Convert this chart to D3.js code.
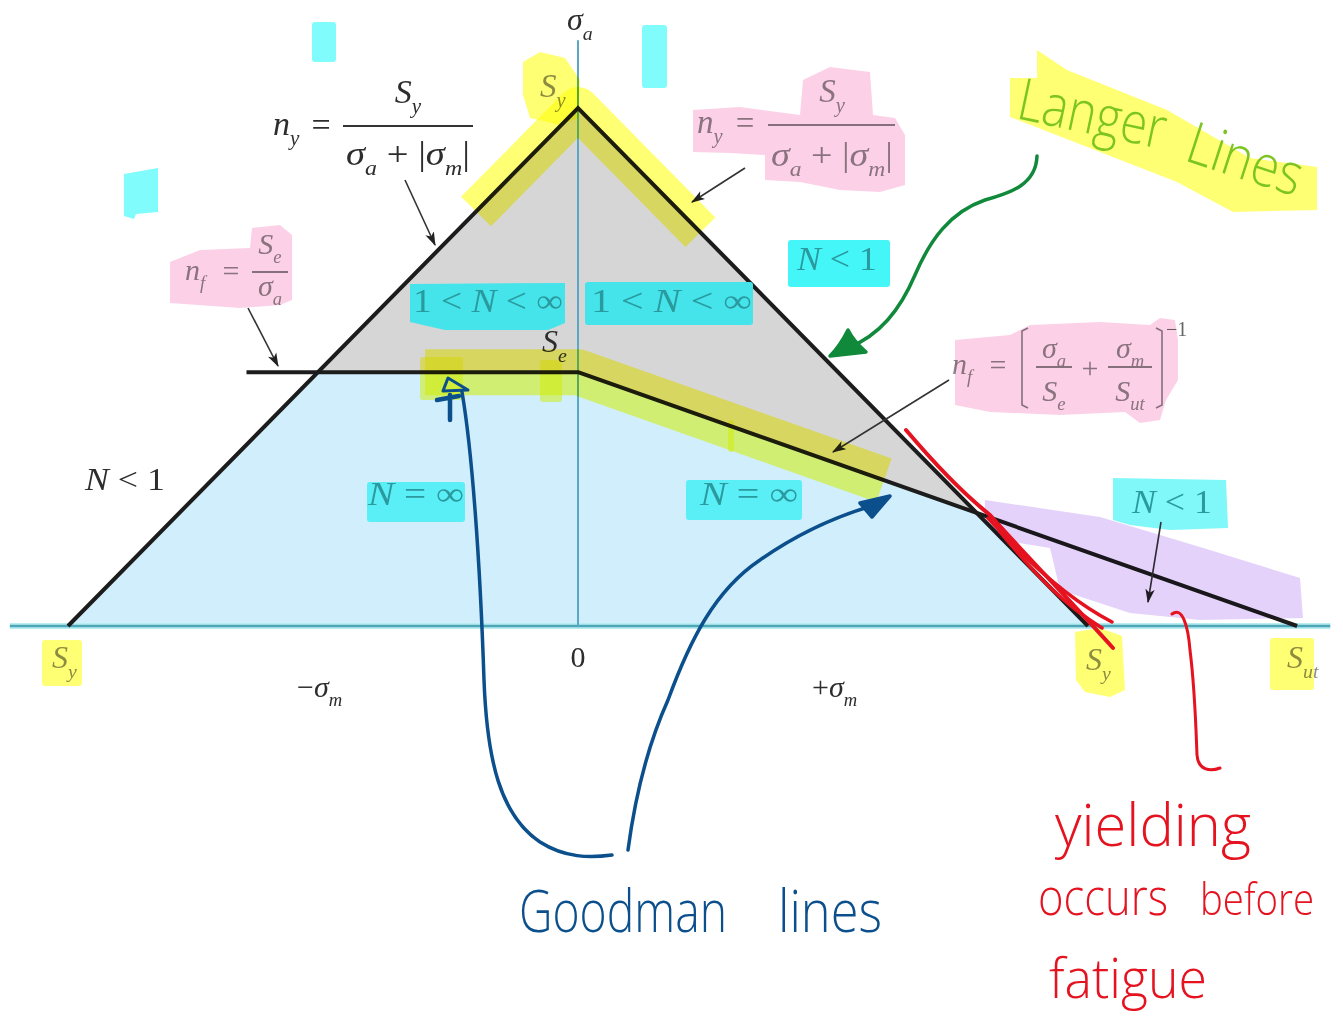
<!DOCTYPE html>
<html>
<head>
<meta charset="utf-8">
<script src="https://cdn.jsdelivr.net/npm/d3@7"></script>
<style>
  html, body { margin: 0; background: #fff; }
  svg { display: block; }
  .hl { mix-blend-mode: multiply; }
</style>
</head>
<body>
<svg id="chart" width="1343" height="1024"></svg>
<script>
// Material strengths, normalised by the yield strength
const strengthNames = ["Sy", "Se", "Sut"];
const strengthValues = [1.0, 0.49, 1.41];

// Langer (first-cycle yield) lines: mean stress vs alternating stress
const langerMean = [-1, 0, 1];
const langerAmp = [0, 1, 0];

// Fatigue boundary: flat for compressive mean stress, Goodman line for tensile
const fatigueMean = [-0.65, 0, 1.41];
const fatigueAmp = [0.49, 0.49, 0];

// Extent of the drawn axes
const axisMeanExtent = [-1.114, 1.475];
const axisAmpExtent = [0, 1.131];

const [Sy, Se, Sut] = strengthValues;

const svg = d3.select("#chart");
const x = d3.scaleLinear().domain([-1, 1]).range([68, 1088]);
const y = d3.scaleLinear().domain([0, 1]).range([626, 108]);

const ink = "#2d2d2d";
const soft = "#8c8c8c";   // text sitting under a highlighter stroke
const teal = "#2a9a9e";   // text on a cyan marker
const serif = "'Liberation Serif','Times New Roman',serif";
const hand = "'Open Sans','Noto Sans',sans-serif";
const line = d3.line().x(d => x(d[0])).y(d => y(d[1]));

// intersection of two segments given as [[m1,a1],[m2,a2]]
function intersect(p, q) {
  const [[x1, y1], [x2, y2]] = p, [[x3, y3], [x4, y4]] = q;
  const d = (x1 - x2) * (y3 - y4) - (y1 - y2) * (x3 - x4);
  const t = ((x1 - x3) * (y3 - y4) - (y1 - y3) * (x3 - x4)) / d;
  return [x1 + t * (x2 - x1), y1 + t * (y2 - y1)];
}
const langerPts = langerMean.map((m, i) => [m, langerAmp[i]]);
const fatiguePts = fatigueMean.map((m, i) => [m, fatigueAmp[i]]);
const goodmanYield = intersect([fatiguePts[1], fatiguePts[2]], [langerPts[1], langerPts[2]]);
const flatYield = [-(Sy - Se), Se];

// ---- regions ----
svg.append("path")
  .attr("d", line([langerPts[0], flatYield, fatiguePts[1], goodmanYield, langerPts[2]]) + "Z")
  .attr("fill", "#d0eefb");
svg.append("path")
  .attr("d", line([flatYield, langerPts[1], goodmanYield, fatiguePts[1]]) + "Z")
  .attr("fill", "#d6d6d6");

// ---- axes ----
svg.append("line")
  .attr("x1", x(axisMeanExtent[0])).attr("x2", x(axisMeanExtent[1]))
  .attr("y1", y(0)).attr("y2", y(0))
  .attr("stroke", "#b8eef2").attr("stroke-width", 6);
svg.append("line")
  .attr("x1", x(axisMeanExtent[0])).attr("x2", x(axisMeanExtent[1]))
  .attr("y1", y(0)).attr("y2", y(0))
  .attr("stroke", "#4fa6b8").attr("stroke-width", 2.5);
svg.append("line")
  .attr("x1", x(0)).attr("x2", x(0))
  .attr("y1", y(axisAmpExtent[0])).attr("y2", y(axisAmpExtent[1]))
  .attr("stroke", "#5aa8c6").attr("stroke-width", 2);

// ---- boundary lines ----
svg.append("path").attr("d", line(langerPts))
  .attr("fill", "none").attr("stroke", "#1c1c1c").attr("stroke-width", 4).attr("stroke-linejoin", "miter");
svg.append("path").attr("d", line(fatiguePts))
  .attr("fill", "none").attr("stroke", "#1c1c1c").attr("stroke-width", 4).attr("stroke-linejoin", "round");

// ---- cyan markers sit under their labels ----
const cyanLayer = svg.append("g");
function cyanRect(x0, y0, x1, y1, color = "#55eff2") {
  cyanLayer.append("rect").attr("x", x0).attr("y", y0)
    .attr("width", x1 - x0).attr("height", y1 - y0).attr("rx", 3).attr("fill", color);
}
function cyanBlob(pts, color = "#55eff2") {
  cyanLayer.append("path").attr("d", d3.line().curve(d3.curveLinearClosed)(pts)).attr("fill", color);
}
cyanRect(312, 22, 336, 62, "#80fcfc");
cyanRect(642, 25, 667, 88, "#80fcfc");
cyanBlob([[124, 174], [158, 168], [158, 212], [136, 214], [134, 219], [124, 216]], "#80fcfc");
cyanBlob([[410, 284], [565, 283], [565, 323], [548, 330], [445, 330], [410, 322]], "#44e4ea");
cyanRect(585, 282, 753, 325, "#44e4ea");
cyanRect(788, 240, 890, 287, "#44f6f8");
cyanRect(367, 482, 465, 522, "#5aeef6");
cyanRect(686, 480, 802, 520, "#5aeef6");
cyanBlob([[1113, 478], [1226, 480], [1228, 528], [1170, 530], [1130, 525], [1113, 520]], "#80f8fa");

// ---- typeset helpers ----
const labels = svg.append("g");
function rich(g, px, py, segs, fs, anchor = "start", tl = null, color = ink) {
  const t = g.append("text").attr("x", px).attr("y", py)
    .attr("font-size", fs).attr("font-family", serif)
    .attr("fill", color).attr("text-anchor", anchor);
  let cur = 0;
  for (const [txt, st] of segs) {
    const off = st === "b" ? 0.3 * fs : st === "p" ? -0.45 * fs : 0;
    const sp = t.append("tspan").attr("dy", off - cur).text(txt);
    cur = off;
    if (st === "i" || st === "b") sp.attr("font-style", "italic");
    if (st === "b" || st === "p") sp.attr("font-size", fs * 0.62);
  }
  if (tl) t.attr("textLength", tl).attr("lengthAdjust", "spacingAndGlyphs");
  return t;
}
function bar(g, x1, x2, yy, color = "#333") {
  g.append("line").attr("x1", x1).attr("x2", x2).attr("y1", yy).attr("y2", yy)
    .attr("stroke", color).attr("stroke-width", 2);
}
const sp = "\u00a0";

// axis labels
rich(labels, 567, 30, [["σ", "i"], ["a", "b"]], 32);
rich(labels, 578, 667, [["0", "r"]], 30, "middle");
rich(labels, 297, 697, [["−", "r"], ["σ", "i"], ["m", "b"]], 30);
rich(labels, 812, 697, [["+", "r"], ["σ", "i"], ["m", "b"]], 30);
rich(labels, 540, 97, [["S", "i"], ["y", "b"]], 33, "start", null, soft);
rich(labels, 542, 352, [["S", "i"], ["e", "b"]], 32);
rich(labels, 52, 668, [["S", "i"], ["y", "b"]], 32, "start", null, soft);
rich(labels, 1086, 670, [["S", "i"], ["y", "b"]], 32, "start", null, soft);
rich(labels, 1287, 668, [["S", "i"], ["ut", "b"]], 32, "start", null, soft);

// region labels
const ineq = [["1", "r"], [sp + "<" + sp, "r"], ["N", "i"], [sp + "<" + sp, "r"], ["∞", "r"]];
rich(labels, 85, 490, [["N", "i"], [sp + "<" + sp + "1", "r"]], 32, "start", 80);
rich(labels, 413, 312, ineq, 33, "start", 150, teal);
rich(labels, 591, 312, ineq, 33, "start", 161, teal);
rich(labels, 797, 270, [["N", "i"], [sp + "<" + sp + "1", "r"]], 33, "start", 80, teal);
rich(labels, 368, 505, [["N", "i"], [sp + "=" + sp + "∞", "r"]], 33, "start", 96, teal);
rich(labels, 700, 505, [["N", "i"], [sp + "=" + sp + "∞", "r"]], 33, "start", 98, teal);
rich(labels, 1132, 513, [["N", "i"], [sp + "<" + sp + "1", "r"]], 33, "start", 80, teal);

// n_y = Sy / (σa + |σm|), left copy
rich(labels, 273, 135, [["n", "i"], ["y", "b"]], 34);
rich(labels, 321, 136, [["=", "r"]], 34, "middle");
bar(labels, 343, 473, 126);
rich(labels, 408, 103, [["S", "i"], ["y", "b"]], 34, "middle");
const denomY = [["σ", "i"], ["a", "b"], [sp + "+" + sp + "|", "r"], ["σ", "i"], ["m", "b"], ["|", "r"]];
rich(labels, 408, 165, denomY, 34, "middle", 124);
// right copy
rich(labels, 697, 133, [["n", "i"], ["y", "b"]], 33, "start", null, soft);
rich(labels, 745, 134, [["=", "r"]], 33, "middle", null, soft);
bar(labels, 768, 895, 125, "#888");
rich(labels, 832, 102, [["S", "i"], ["y", "b"]], 33, "middle", null, soft);
rich(labels, 832, 166, denomY, 33, "middle", 122, soft);

// n_f = Se / σa
rich(labels, 185, 280, [["n", "i"], ["f", "b"]], 30, "start", null, soft);
rich(labels, 231, 281, [["=", "r"]], 30, "middle", null, soft);
bar(labels, 252, 288, 272, "#888");
rich(labels, 270, 254, [["S", "i"], ["e", "b"]], 30, "middle", null, soft);
rich(labels, 270, 296, [["σ", "i"], ["a", "b"]], 30, "middle", null, soft);

// n_f = [σa/Se + σm/Sut]^-1
rich(labels, 952, 374, [["n", "i"], ["f", "b"]], 30, "start", null, soft);
rich(labels, 998, 375, [["=", "r"]], 30, "middle", null, soft);
labels.append("path").attr("d", "M1028,328 L1022,331 L1022,405 L1028,408")
  .attr("fill", "none").attr("stroke", "#888").attr("stroke-width", 1.6);
labels.append("path").attr("d", "M1156,328 L1162,331 L1162,405 L1156,408")
  .attr("fill", "none").attr("stroke", "#888").attr("stroke-width", 1.6);
rich(labels, 1054, 358, [["σ", "i"], ["a", "b"]], 30, "middle", null, soft);
bar(labels, 1036, 1072, 367, "#888");
rich(labels, 1054, 401, [["S", "i"], ["e", "b"]], 30, "middle", null, soft);
rich(labels, 1090, 378, [["+", "r"]], 30, "middle", null, soft);
rich(labels, 1130, 358, [["σ", "i"], ["m", "b"]], 30, "middle", null, soft);
bar(labels, 1108, 1152, 367, "#888");
rich(labels, 1130, 401, [["S", "i"], ["ut", "b"]], 30, "middle", null, soft);
rich(labels, 1166, 336, [["−1", "r"]], 20, "start", null, "#666");

// ---- leader arrows ----
const defs = svg.append("defs");
defs.append("marker").attr("id", "ah").attr("viewBox", "0 0 12 8")
  .attr("refX", 11).attr("refY", 4).attr("markerWidth", 14).attr("markerHeight", 10)
  .attr("markerUnits", "userSpaceOnUse").attr("orient", "auto")
  .append("path").attr("d", "M0,0 L12,4 L0,8 L3,4 Z").attr("fill", "#222");
const leaders = [
  [405, 180, 435, 245], [745, 168, 692, 202], [248, 308, 278, 366],
  [949, 380, 833, 452], [1161, 522, 1148, 602]
];
svg.append("g").selectAll("line").data(leaders).join("line")
  .attr("x1", d => d[0]).attr("y1", d => d[1]).attr("x2", d => d[2]).attr("y2", d => d[3])
  .attr("stroke", "#333").attr("stroke-width", 1.6).attr("marker-end", "url(#ah)");

// ---- highlighter marks ----
const hl = svg.append("g");
const yellow = "#ffff74", pink = "#fcd1e7", purple = "#e4d2fb";
function blob(pts, color) {
  hl.append("path").attr("class", "hl")
    .attr("d", d3.line().curve(d3.curveLinearClosed)(pts)).attr("fill", color);
}
function rect(x0, y0, x1, y1, color) {
  hl.append("rect").attr("class", "hl").attr("x", x0).attr("y", y0)
    .attr("width", x1 - x0).attr("height", y1 - y0).attr("rx", 3).attr("fill", color);
}
// yellow along the Langer apex and the fatigue boundary
hl.append("path").attr("class", "hl")
  .attr("d", line([[-0.2, 0.8], [0, 1], [0.24, 0.76]]))
  .attr("fill", "none").attr("stroke", yellow).attr("stroke-width", 42).attr("stroke-linejoin", "round");
blob([[523, 62], [540, 52], [565, 58], [580, 80], [578, 118], [560, 125], [530, 118], [523, 95]], yellow);
hl.append("path").attr("class", "hl")
  .attr("d", line([[-0.3, Se], [0, Se], [0.6, Se * (1 - 0.6 / Sut)]]))
  .attr("fill", "none").attr("stroke", yellow).attr("stroke-width", 46).attr("stroke-linejoin", "round");
rect(420, 357, 463, 400, "#ffff80");
rect(540, 360, 562, 402, "#ffff80");
rect(728, 420, 734, 452, "#ffff80");
rect(42, 640, 82, 686, yellow);
blob([[1075, 632], [1100, 628], [1122, 636], [1125, 690], [1110, 697], [1085, 692], [1076, 680]], yellow);
rect(1270, 638, 1314, 690, yellow);
blob([[1037, 50], [1067, 70], [1167, 110], [1250, 158], [1317, 167], [1317, 210], [1233, 212],
      [1177, 182], [1010, 117], [1010, 78], [1037, 78]], yellow);

// pink
blob([[693, 110], [740, 107], [800, 115], [803, 80], [830, 67], [870, 72], [873, 115], [895, 118],
      [905, 135], [905, 185], [880, 192], [840, 190], [800, 182], [765, 180], [765, 155], [730, 153], [693, 152]], pink);
blob([[170, 262], [200, 250], [250, 248], [252, 228], [280, 225], [292, 235], [292, 300],
      [280, 305], [240, 308], [170, 303]], pink);
blob([[955, 340], [1010, 335], [1030, 325], [1100, 322], [1150, 325], [1160, 318], [1175, 320],
      [1178, 340], [1178, 380], [1166, 400], [1160, 420], [1140, 423], [1125, 412], [1060, 415],
      [990, 412], [955, 405]], pink);

// purple along the Goodman segment beyond yield
blob([[985, 500], [1100, 517], [1200, 547], [1300, 578], [1303, 618], [1200, 620], [1130, 613],
      [1060, 590], [1050, 548], [1000, 540], [985, 520]], purple);

// ---- hand-drawn notes ----
const notes = svg.append("g").attr("fill", "none").attr("stroke-linecap", "round").attr("stroke-linejoin", "round");
const green = "#10893b", blue = "#0b4f8c", red = "#e4131f";
notes.append("path").attr("d", "M1037,156 C1036,185 1010,193 985,200 C950,212 930,240 915,275 C900,310 880,335 848,348")
  .attr("stroke", green).attr("stroke-width", 3.5);
notes.append("path").attr("d", "M848,330 C843,340 836,350 830,356 L866,352 C858,345 852,338 848,330 Z")
  .attr("stroke", green).attr("stroke-width", 3.5).attr("fill", green);

notes.append("path").attr("d", "M462,392 C472,450 480,560 484,680 C487,760 500,815 540,842 C565,858 590,858 612,855")
  .attr("stroke", blue).attr("stroke-width", 3.5);
notes.append("path").attr("d", "M448,378 L443,391 L468,390 Z").attr("stroke", blue).attr("stroke-width", 3);
notes.append("path").attr("d", "M450,395 L450,420 M437,400 L459,396").attr("stroke", blue).attr("stroke-width", 4.5);
notes.append("path").attr("d", "M628,850 C636,790 650,740 668,700 C690,640 715,590 760,560 C800,532 840,515 875,505")
  .attr("stroke", blue).attr("stroke-width", 3.5);
notes.append("path").attr("d", "M890,496 L860,503 L872,517 Z").attr("stroke", blue).attr("stroke-width", 3.5).attr("fill", blue);

notes.append("path").attr("d", "M906,430 C940,470 965,495 990,515 C1030,560 1070,600 1113,648")
  .attr("stroke", red).attr("stroke-width", 4);
notes.append("path").attr("d", "M988,518 C1030,565 1070,600 1112,622")
  .attr("stroke", red).attr("stroke-width", 3.5);
notes.append("path").attr("d", "M1000,532 C1040,580 1065,605 1102,628")
  .attr("stroke", red).attr("stroke-width", 3.5);
notes.append("path").attr("d", "M1172,614 C1182,606 1188,625 1190,650 C1195,690 1196,730 1197,755 C1198,770 1210,772 1220,768")
  .attr("stroke", red).attr("stroke-width", 3);

function handText(txt, px, py, fs, tl, color, rot = 0) {
  svg.append("text").attr("x", px).attr("y", py).attr("font-family", hand)
    .attr("font-weight", 300).attr("font-size", fs).attr("fill", color)
    .attr("textLength", tl).attr("lengthAdjust", "spacingAndGlyphs")
    .attr("transform", rot ? `rotate(${rot},${px},${py})` : null)
    .text(txt);
}
handText("Langer", 1015, 118, 58, 150, "#7cc521", 12);
handText("Lines", 1183, 160, 58, 118, "#7cc521", 18);
handText("Goodman", 519, 932, 58, 208, blue);
handText("lines", 778, 932, 58, 104, blue);
handText("yielding", 1055, 846, 58, 196, red);
handText("occurs", 1038, 915, 52, 130, red);
handText("before", 1200, 915, 44, 114, red);
handText("fatigue", 1049, 998, 56, 158, red);
</script>
</body>
</html>
